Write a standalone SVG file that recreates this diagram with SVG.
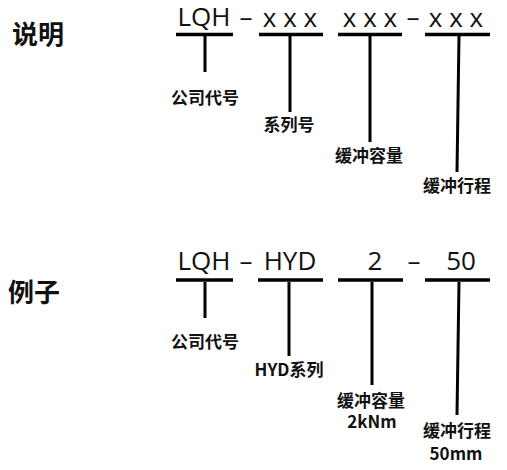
<svg xmlns="http://www.w3.org/2000/svg" width="507" height="470" viewBox="0 0 507 470">
<style>
.h{font-family:"Noto Sans CJK SC","Noto Sans",sans-serif;font-weight:bold;font-size:26px;fill:#111}
.c{font-family:"Open Sans","Noto Sans",sans-serif;font-size:26px;fill:#111;text-anchor:middle}
.l{font-family:"Noto Sans CJK SC","Noto Sans",sans-serif;font-weight:bold;font-size:17px;fill:#111;text-anchor:middle}
.b{stroke:#000;stroke-width:3.5;fill:none}
.v{stroke:#000;stroke-width:3;fill:none}
</style>
<rect width="507" height="470" fill="#fff"/>
<g id="title1"><text class="h" x="12" y="44">说明</text></g>
<g id="title2"><text class="h" x="8" y="302">例子</text></g>
<g id="code1">
<text class="c" x="204" y="26">LQH</text>
<text class="c" x="246" y="26">–</text>
<text class="c" x="290" y="27">x x x</text>
<text class="c" x="370" y="27">x x x</text>
<text class="c" x="413" y="26">–</text>
<text class="c" x="456" y="27">x x x</text>
</g>
<g id="code2">
<text class="c" x="204" y="270">LQH</text>
<text class="c" x="246" y="270">–</text>
<text class="c" x="290" y="270">HYD</text>
<text class="c" x="375" y="270">2</text>
<text class="c" x="414" y="270">–</text>
<text class="c" x="461" y="270">50</text>
</g>
<g id="connectors">
<path class="b" d="M176 34.5H233M259 34.5H323M338 34.5H402M425 34.5H490"/>
<path class="v" d="M205 36V72M290 36V112M370 36V142M459 36L457 172"/>
<path class="b" d="M176 280H233M258 280H323M338 280H403M425 280H490"/>
<path class="v" d="M205 282V318M289 282V356M372 282V385M459 282L457 415"/>
</g>
<g id="label-company1"><text class="l" x="205" y="104">公司代号</text></g>
<g id="label-series1"><text class="l" x="289" y="131">系列号</text></g>
<g id="label-capacity1"><text class="l" x="369" y="162">缓冲容量</text></g>
<g id="label-stroke1"><text class="l" x="457" y="192">缓冲行程</text></g>
<g id="label-company2"><text class="l" x="205" y="348">公司代号</text></g>
<g id="label-series2"><text class="l" x="289" y="376">HYD系列</text></g>
<g id="label-capacity2"><text class="l" x="371" y="407">缓冲容量</text><text class="l" x="372" y="428">2kNm</text></g>
<g id="label-stroke2"><text class="l" x="457" y="437">缓冲行程</text><text class="l" x="456" y="460">50mm</text></g>
</svg>
